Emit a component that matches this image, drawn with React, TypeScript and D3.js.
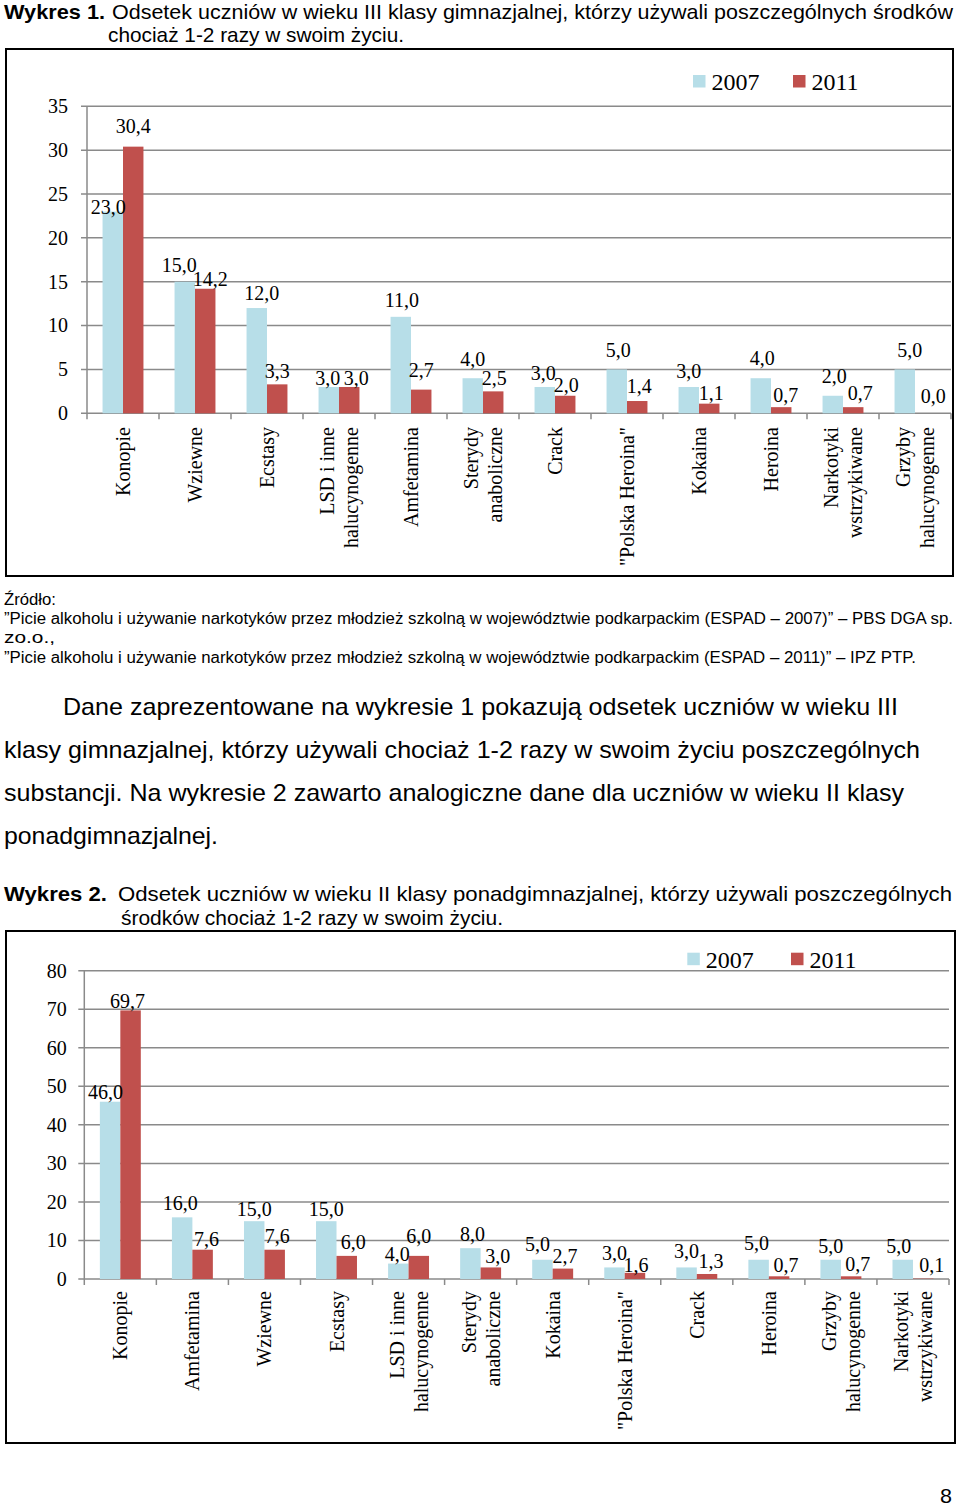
import React from 'react';
import * as d3 from 'd3';

const W = 960;
const H = 1506;
const SERIF = "'Liberation Serif','Times New Roman',Times,serif";
const NARROW = "'Liberation Sans Narrow','Arial Narrow','Liberation Sans',Arial,sans-serif";

const seriesNames = ['2007', '2011'];
const seriesColors = ['#B7DEE8', '#C0504D'];

const chart1Categories = [
  'Konopie', 'Wziewne', 'Ecstasy', 'LSD i inne\nhalucynogenne', 'Amfetamina',
  'Sterydy\nanaboliczne', 'Crack', '"Polska Heroina"', 'Kokaina', 'Heroina',
  'Narkotyki\nwstrzykiwane', 'Grzyby\nhalucynogenne',
];
const chart1Values2007 = [23.0, 15.0, 12.0, 3.0, 11.0, 4.0, 3.0, 5.0, 3.0, 4.0, 2.0, 5.0];
const chart1Values2011 = [30.4, 14.2, 3.3, 3.0, 2.7, 2.5, 2.0, 1.4, 1.1, 0.7, 0.7, 0.0];
const chart1YTicks = [0, 5, 10, 15, 20, 25, 30, 35];

const chart2Categories = [
  'Konopie', 'Amfetamina', 'Wziewne', 'Ecstasy', 'LSD i inne\nhalucynogenne',
  'Sterydy\nanaboliczne', 'Kokaina', '"Polska Heroina"', 'Crack', 'Heroina',
  'Grzyby\nhalucynogenne', 'Narkotyki\nwstrzykiwane',
];
const chart2Values2007 = [46.0, 16.0, 15.0, 15.0, 4.0, 8.0, 5.0, 3.0, 3.0, 5.0, 5.0, 5.0];
const chart2Values2011 = [69.7, 7.6, 7.6, 6.0, 6.0, 3.0, 2.7, 1.6, 1.3, 0.7, 0.7, 0.1];
const chart2YTicks = [0, 10, 20, 30, 40, 50, 60, 70, 80];

// label nudges (style only): [dx, gap above bar top]
const nudge1 = [
  [[-4.5, -2], [-5.5, 10], [5, 8], [-1, 2], [1, 10], [0, 12], [-1.5, 7], [1.5, 12.7], [0, 8.7], [1.5, 13], [1.5, 12.5], [5, 12.7]],
  [[0, 14], [5, 3], [0, 6], [7, 2], [0, 13], [1, 6], [1, 4], [2, 8], [2, 4], [4.5, 5.5], [7, 7], [8, 10]],
];
const nudge2 = [
  [[-4.7, 2.4], [-2, 7], [0, 5], [0, 5], [-1, 3], [2, 7], [-5, 9], [0, 7], [0, 9], [-2, 9.7], [0, 7], [-4, 7]],
  [[-3, 2.7], [4, 3.7], [2.5, 6.4], [6.5, 6.6], [0, 13], [6.8, 4], [2, 6], [1, 1], [4, 5.7], [7, 4.6], [6.5, 5.6], [8.5, 7]],
];

const fmt = (v: number) => d3.format('.1f')(v).replace('.', ',');

type ChartProps = {
  categories: string[];
  series: number[][];
  ticks: number[];
  nudges: number[][][];
  frame: [number, number, number, number];
  left: number;
  right: number;
  top: number;
  bottom: number;
  tickLabelX: number;
  labelTop: number;
  legendX: number;
  legendY: number;
  legendStep: number;
};

function BarChart(p: ChartProps) {
  const x0 = d3.scaleBand<string>().domain(p.categories).range([p.left, p.right]).paddingInner(0).paddingOuter(0);
  const bw = x0.bandwidth();
  const x1 = d3.scaleBand<string>().domain(seriesNames).range([0, bw]).paddingInner(0).paddingOuter(0.76);
  const yMax = p.ticks[p.ticks.length - 1];
  const y = d3.scaleLinear().domain([0, yMax]).range([p.bottom, p.top]);
  const grid = '#8a8a8a';
  const [fx0, fy0, fx1, fy1] = p.frame;
  const boundaries = d3.range(p.categories.length + 1).map((i) => p.left + i * bw);
  return (
    <g>
      <rect x={fx0} y={fy0} width={fx1 - fx0} height={fy1 - fy0} fill="#fff" stroke="#000" strokeWidth={2} />
      {p.ticks.map((t) => (
        <g key={'t' + t}>
          <line x1={p.left - 6} x2={p.right} y1={y(t)} y2={y(t)} stroke={grid} strokeWidth={1.5} />
          <text x={p.tickLabelX} y={y(t) + 6.8} textAnchor="end" fontFamily={SERIF} fontSize={20} fill="#000">{t}</text>
        </g>
      ))}
      <line x1={p.left} x2={p.left} y1={p.top} y2={p.bottom} stroke={grid} strokeWidth={1.5} />
      {boundaries.map((bx, i) => (
        <line key={'b' + i} x1={bx} x2={bx} y1={p.bottom} y2={p.bottom + 6} stroke={grid} strokeWidth={1.5} />
      ))}
      {p.series.map((vals, s) =>
        vals.map((v, i) => {
          const c = p.categories[i];
          const bx = (x0(c) as number) + (x1(seriesNames[s]) as number);
          return (
            <rect key={'r' + s + '-' + i} x={bx} y={y(v)} width={x1.bandwidth()} height={p.bottom - y(v)} fill={seriesColors[s]} />
          );
        })
      )}
      {p.series.map((vals, s) =>
        vals.map((v, i) => {
          const c = p.categories[i];
          const cx = (x0(c) as number) + (x1(seriesNames[s]) as number) + x1.bandwidth() / 2;
          const [dx, gap] = p.nudges[s][i];
          return (
            <text key={'l' + s + '-' + i} x={cx + dx} y={y(v) - gap} textAnchor="middle" fontFamily={SERIF} fontSize={20} fill="#000">
              {fmt(v)}
            </text>
          );
        })
      )}
      {p.categories.map((c) => {
        const lines = c.split('\n');
        const cx = (x0(c) as number) + bw / 2;
        return (
          <g key={'c' + c} transform={`translate(${cx},${p.labelTop}) rotate(-90)`}>
            {lines.map((ln, k) => (
              <text key={k} x={0} y={(k - (lines.length - 1) / 2) * 24 + 7} textAnchor="end" fontFamily={SERIF} fontSize={20} fill="#000">
                {ln}
              </text>
            ))}
          </g>
        );
      })}
      {seriesNames.map((n, s) => (
        <g key={'lg' + n} transform={`translate(${p.legendX + s * p.legendStep},${p.legendY})`}>
          <rect x={0} y={0} width={12.5} height={12.5} fill={seriesColors[s]} />
          <text x={18.5} y={15} fontFamily={SERIF} fontSize={24} fill="#000">{n}</text>
        </g>
      ))}
    </g>
  );
}

type LineProps = { x: number; y: number; w: number; size: number; bold?: boolean; children: string };
function TLine({ x, y, w, size, bold, children }: LineProps) {
  return (
    <text x={x} y={y} textLength={w} lengthAdjust="spacingAndGlyphs" fontFamily={NARROW} fontSize={size} fontWeight={bold ? 'bold' : 'normal'} fill="#000">
      {children}
    </text>
  );
}

export default function App() {
  return (
    <svg width={W} height={H} viewBox={`0 0 ${W} ${H}`} style={{ position: 'absolute', left: 0, top: 0, background: '#fff' }}>
      <rect x={0} y={0} width={W} height={H} fill="#fff" />
      <TLine x={4} y={19} w={101} size={21} bold>Wykres 1.</TLine>
      <TLine x={112} y={19} w={841} size={21}>Odsetek uczniów w wieku III klasy gimnazjalnej, którzy używali poszczególnych środków</TLine>
      <TLine x={108} y={42} w={296} size={21}>chociaż 1-2 razy w swoim życiu.</TLine>

      <BarChart
        categories={chart1Categories}
        series={[chart1Values2007, chart1Values2011]}
        ticks={chart1YTicks}
        nudges={nudge1}
        frame={[6, 49, 953, 576]}
        left={87}
        right={951}
        top={106.3}
        bottom={413.3}
        tickLabelX={68}
        labelTop={427}
        legendX={693}
        legendY={75}
        legendStep={100}
      />

      <TLine x={4} y={605} w={52} size={16}>Źródło:</TLine>
      <TLine x={4} y={624} w={949} size={16}>”Picie alkoholu i używanie narkotyków przez młodzież szkolną w województwie podkarpackim (ESPAD – 2007)” – PBS DGA sp.</TLine>
      <TLine x={4} y={643} w={51} size={16}>zo.o.,</TLine>
      <TLine x={4} y={663} w={912} size={16}>”Picie alkoholu i używanie narkotyków przez młodzież szkolną w województwie podkarpackim (ESPAD – 2011)” – IPZ PTP.</TLine>

      <TLine x={63} y={715} w={835} size={24}>Dane zaprezentowane na wykresie 1 pokazują odsetek uczniów w wieku III</TLine>
      <TLine x={4} y={758} w={916} size={24}>klasy gimnazjalnej, którzy używali chociaż 1-2 razy w swoim życiu poszczególnych</TLine>
      <TLine x={4} y={801} w={900} size={24}>substancji. Na wykresie 2 zawarto analogiczne dane dla uczniów w wieku II klasy</TLine>
      <TLine x={4} y={844} w={214} size={24}>ponadgimnazjalnej.</TLine>

      <TLine x={4} y={901} w={103} size={21} bold>Wykres 2.</TLine>
      <TLine x={118} y={901} w={834} size={21}>Odsetek uczniów w wieku II klasy ponadgimnazjalnej, którzy używali poszczególnych</TLine>
      <TLine x={121} y={925} w={382} size={21}>środków chociaż 1-2 razy w swoim życiu.</TLine>

      <BarChart
        categories={chart2Categories}
        series={[chart2Values2007, chart2Values2011]}
        ticks={chart2YTicks}
        nudges={nudge2}
        frame={[6, 931, 955, 1443]}
        left={84.3}
        right={949}
        top={970.7}
        bottom={1279}
        tickLabelX={66.7}
        labelTop={1291}
        legendX={687.3}
        legendY={952.7}
        legendStep={103.7}
      />

      <TLine x={940} y={1503} w={12} size={21}>8</TLine>
    </svg>
  );
}
